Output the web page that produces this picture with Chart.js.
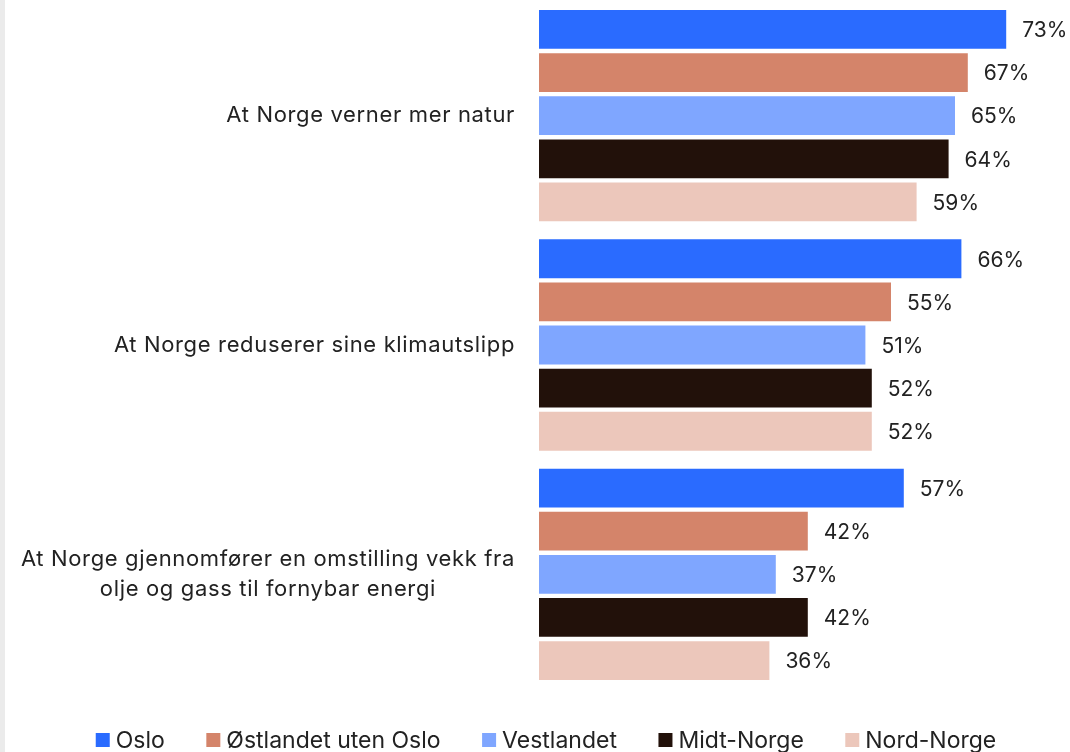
<!DOCTYPE html>
<html>
<head>
<meta charset="utf-8">
<script src="https://cdn.jsdelivr.net/npm/chart.js@4.4.1/dist/chart.umd.min.js"></script>
<style>
  html, body { margin: 0; padding: 0; background: #ffffff; }
  body { width: 1070px; height: 752px; overflow: hidden; position: relative; }
  #strip { position: absolute; left: 0; top: 0; width: 5px; height: 752px; background: #ebebeb; }
  #wrap { position: absolute; left: 5px; top: 0; width: 1065px; height: 752px; }
</style>
</head>
<body>
<div id="strip"></div>
<div id="wrap"><canvas id="c"></canvas></div>
<script>
const categories = [
  ["At Norge verner mer natur"],
  ["At Norge reduserer sine klimautslipp"],
  ["At Norge gjennomfører en omstilling vekk fra", "olje og gass til fornybar energi"]
];
const seriesNames = ["Oslo", "Østlandet uten Oslo", "Vestlandet", "Midt-Norge", "Nord-Norge"];
const oslo      = [73, 66, 57];
const ostlandet = [67, 55, 42];
const vestlandet = [65, 51, 37];
const midtNorge = [64, 52, 42];
const nordNorge = [59, 52, 36];
const seriesColors = ["#2a6bff", "#d4846a", "#7fa6ff", "#22110a", "#ecc7bb"];

const FONT = "Inter, 'DejaVu Sans', sans-serif";
const TEXT = "#222222";

const valueLabels = {
  id: 'valueLabels',
  afterDatasetsDraw(chart) {
    const ctx = chart.ctx;
    ctx.save();
    ctx.font = "21px " + FONT;
    ctx.fillStyle = TEXT;
    ctx.textAlign = 'left';
    ctx.textBaseline = 'middle';
    chart.data.datasets.forEach((ds, i) => {
      const meta = chart.getDatasetMeta(i);
      meta.data.forEach((el, j) => {
        ctx.fillText(ds.data[j] + "%", el.x + 16, el.y + 1.5);
      });
    });
    ctx.restore();
  }
};

const catLabels = {
  id: 'catLabels',
  afterDraw(chart) {
    const ctx = chart.ctx;
    const ys = chart.scales.y;
    ctx.save();
    ctx.font = "22px " + FONT;
    ctx.letterSpacing = "0.65px";
    ctx.fillStyle = TEXT;
    ctx.textAlign = 'center';
    ctx.textBaseline = 'middle';
    const right = chart.chartArea.left - 24;
    const lh = 30;
    categories.forEach((lines, i) => {
      const y = ys.getPixelForValue(i);
      const w = Math.max(...lines.map(l => ctx.measureText(l).width));
      const cx = right - w / 2;
      const y0 = y - (lines.length - 1) * lh / 2;
      lines.forEach((l, k) => ctx.fillText(l, cx, y0 + k * lh));
    });
    ctx.restore();
  }
};

const customLegend = {
  id: 'customLegend',
  afterDraw(chart) {
    const ctx = chart.ctx;
    ctx.save();
    ctx.font = "23px " + FONT;
    ctx.textBaseline = 'middle';
    ctx.textAlign = 'left';
    const box = 14, gap = 6, spacing = 41.5;
    const widths = seriesNames.map(n => box + gap + ctx.measureText(n).width);
    const total = widths.reduce((a, b) => a + b, 0) + spacing * (widths.length - 1);
    let x = 541 - total / 2;
    const y = 740;
    seriesNames.forEach((n, i) => {
      ctx.fillStyle = seriesColors[i];
      ctx.fillRect(x, y - 7, box, box);
      ctx.fillStyle = TEXT;
      ctx.fillText(n, x + box + gap, y + 1);
      x += widths[i] + spacing;
    });
    ctx.restore();
  }
};

const seriesData = [oslo, ostlandet, vestlandet, midtNorge, nordNorge];

new Chart(document.getElementById('c'), {
  type: 'bar',
  data: {
    labels: categories.map(l => l.join(" ")),
    datasets: seriesNames.map((n, i) => ({
      label: n,
      data: seriesData[i],
      backgroundColor: seriesColors[i],
      borderWidth: 0,
      barPercentage: 0.9,
      categoryPercentage: 0.94
    }))
  },
  options: {
    indexAxis: 'y',
    responsive: true,
    maintainAspectRatio: false,
    animation: false,
    layout: { padding: { left: 534, right: 19, top: 1, bottom: 63 } },
    scales: {
      x: { min: 0, max: 80, display: false },
      y: { display: false }
    },
    plugins: {
      legend: { display: false },
      tooltip: { enabled: false }
    }
  },
  plugins: [valueLabels, catLabels, customLegend]
});
</script>
</body>
</html>
